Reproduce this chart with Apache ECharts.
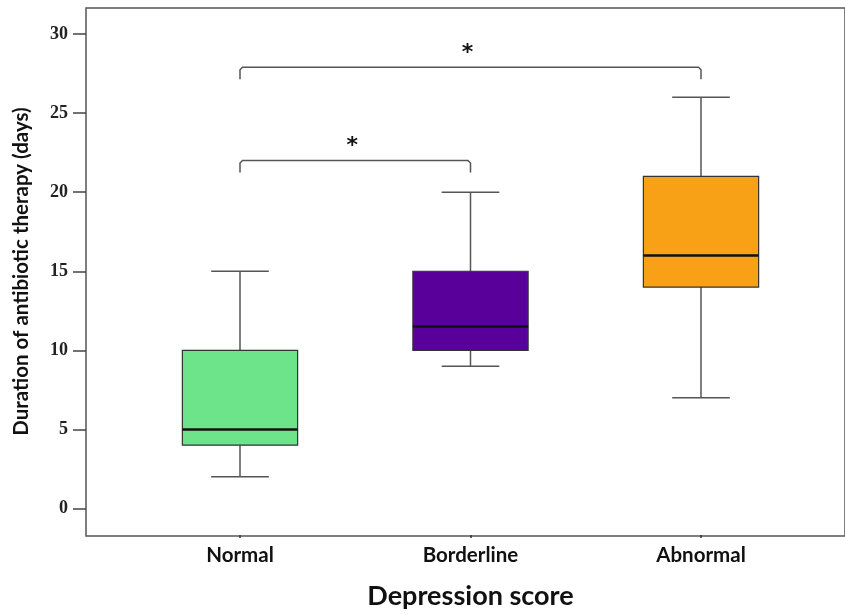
<!DOCTYPE html>
<html>
<head>
<meta charset="utf-8">
<script src="https://cdn.jsdelivr.net/npm/echarts@6/dist/echarts.min.js"></script>
<style>html,body{margin:0;padding:0;background:#fff}#c{width:845px;height:615px}</style>
</head>
<body>
<div id="c"></div>
<script>
const categories = ['Normal', 'Borderline', 'Abnormal'];
const whiskerLow = [2, 9, 7];
const q1 = [4, 10, 14];
const median = [5, 11.5, 16];
const q3 = [10, 15, 21];
const whiskerHigh = [15, 20, 26];
const boxColors = ['#6de38a', '#5a009a', '#f8a117'];
const yTicks = [0, 5, 10, 15, 20, 25, 30];
const bracketFrom = [0, 0];
const bracketTo = [1, 2];
const bracketLevel = [22, 27.9];
const bracketDrop = [0.75, 0.75];
const bracketLabel = ['*', '*'];

const boxData = categories.map((c, i) => [i, whiskerLow[i], q1[i], median[i], q3[i], whiskerHigh[i]]);
const bracketData = bracketFrom.map((f, i) => [f, bracketTo[i], bracketLevel[i], bracketDrop[i], i]);

const chart = echarts.init(document.getElementById('c'));
const lineStyle = { stroke: '#555', lineWidth: 1.5 };

chart.setOption({
  animation: false,
  grid: [
    { left: 124.75, right: 28.75, top: 8, bottom: 79 },
    { left: 86, right: -10, top: 8, bottom: 79, show: true, borderColor: '#555', borderWidth: 1.5, backgroundColor: 'transparent' }
  ],
  xAxis: [
    {
      type: 'category', data: categories, gridIndex: 0,
      axisLine: { show: false, onZero: false },
      axisTick: { show: true, alignWithLabel: true, length: 3, lineStyle: { color: '#333', width: 1.5 } },
      axisLabel: { fontFamily: 'Lato', fontWeight: 'bold', fontSize: 20.5, color: '#111', margin: 10 },
      name: 'Depression score', nameLocation: 'middle', nameGap: 48,
      nameTextStyle: { fontFamily: 'Lato', fontWeight: 'bold', fontSize: 27, color: '#111' }
    },
    { type: 'value', gridIndex: 1, show: false }
  ],
  yAxis: [
    {
      type: 'value', gridIndex: 0, min: -1.68, max: 31.65, offset: 38.75,
      axisLine: { show: false },
      splitLine: { show: false },
      axisTick: { show: true, length: 13, customValues: yTicks, lineStyle: { color: '#444', width: 1.5 } },
      axisLabel: { fontFamily: 'Liberation Serif', fontWeight: 'bold', fontSize: 18, color: '#222', margin: 18,
        customValues: yTicks },
      name: 'Duration of antibiotic therapy (days)', nameLocation: 'middle', nameGap: 54,
      nameTextStyle: { fontFamily: 'Lato', fontWeight: 'bold', fontSize: 20.5, color: '#111' }
    },
    { type: 'value', gridIndex: 1, show: false }
  ],
  series: [
    {
      type: 'custom', xAxisIndex: 0, yAxisIndex: 0, data: boxData,
      renderItem: function (params, api) {
        const i = api.value(0);
        const band = api.size([1, 0])[0];
        const bw = band * 0.5, cw = band * 0.25;
        const cx = api.coord([i, api.value(3)])[0];
        const y = k => api.coord([i, api.value(k)])[1];
        const yLo = y(1), yQ1 = y(2), yMed = y(3), yQ3 = y(4), yHi = y(5);
        return {
          type: 'group',
          children: [
            { type: 'line', shape: { x1: cx, y1: yQ1, x2: cx, y2: yLo }, style: lineStyle },
            { type: 'line', shape: { x1: cx, y1: yQ3, x2: cx, y2: yHi }, style: lineStyle },
            { type: 'line', shape: { x1: cx - cw / 2, y1: yLo, x2: cx + cw / 2, y2: yLo }, style: lineStyle },
            { type: 'line', shape: { x1: cx - cw / 2, y1: yHi, x2: cx + cw / 2, y2: yHi }, style: lineStyle },
            { type: 'rect', shape: { x: cx - bw / 2, y: yQ3, width: bw, height: yQ1 - yQ3 },
              style: { fill: boxColors[params.dataIndex], stroke: '#333', lineWidth: 1.2 } },
            { type: 'line', shape: { x1: cx - bw / 2, y1: yMed, x2: cx + bw / 2, y2: yMed },
              style: { stroke: '#111', lineWidth: 2.5 } }
          ]
        };
      }
    },
    {
      type: 'custom', xAxisIndex: 0, yAxisIndex: 0, data: bracketData,
      renderItem: function (params, api) {
        const a = api.value(0), b = api.value(1), lv = api.value(2), dr = api.value(3);
        const p1 = api.coord([a, lv]), p2 = api.coord([b, lv]);
        const yEnd = api.coord([a, lv - dr])[1];
        const x1 = p1[0], x2 = p2[0], yy = p1[1];
        const r = 2.5;
        return {
          type: 'group',
          children: [
            { type: 'polyline', shape: { points: [[x1, yEnd], [x1, yy + r], [x1 + r, yy], [x2 - r, yy], [x2, yy + r], [x2, yEnd]] },
              style: { stroke: '#555', lineWidth: 1.5, fill: null } },
            { type: 'text', x: (x1 + x2) / 2 - 3, y: yy - 14,
              style: { text: bracketLabel[params.dataIndex], fontFamily: 'DejaVu Sans', fontWeight: 'bold', fontSize: 22,
                fill: '#111', align: 'center', verticalAlign: 'middle' } }
          ]
        };
      }
    }
  ]
});
</script>
</body>
</html>
